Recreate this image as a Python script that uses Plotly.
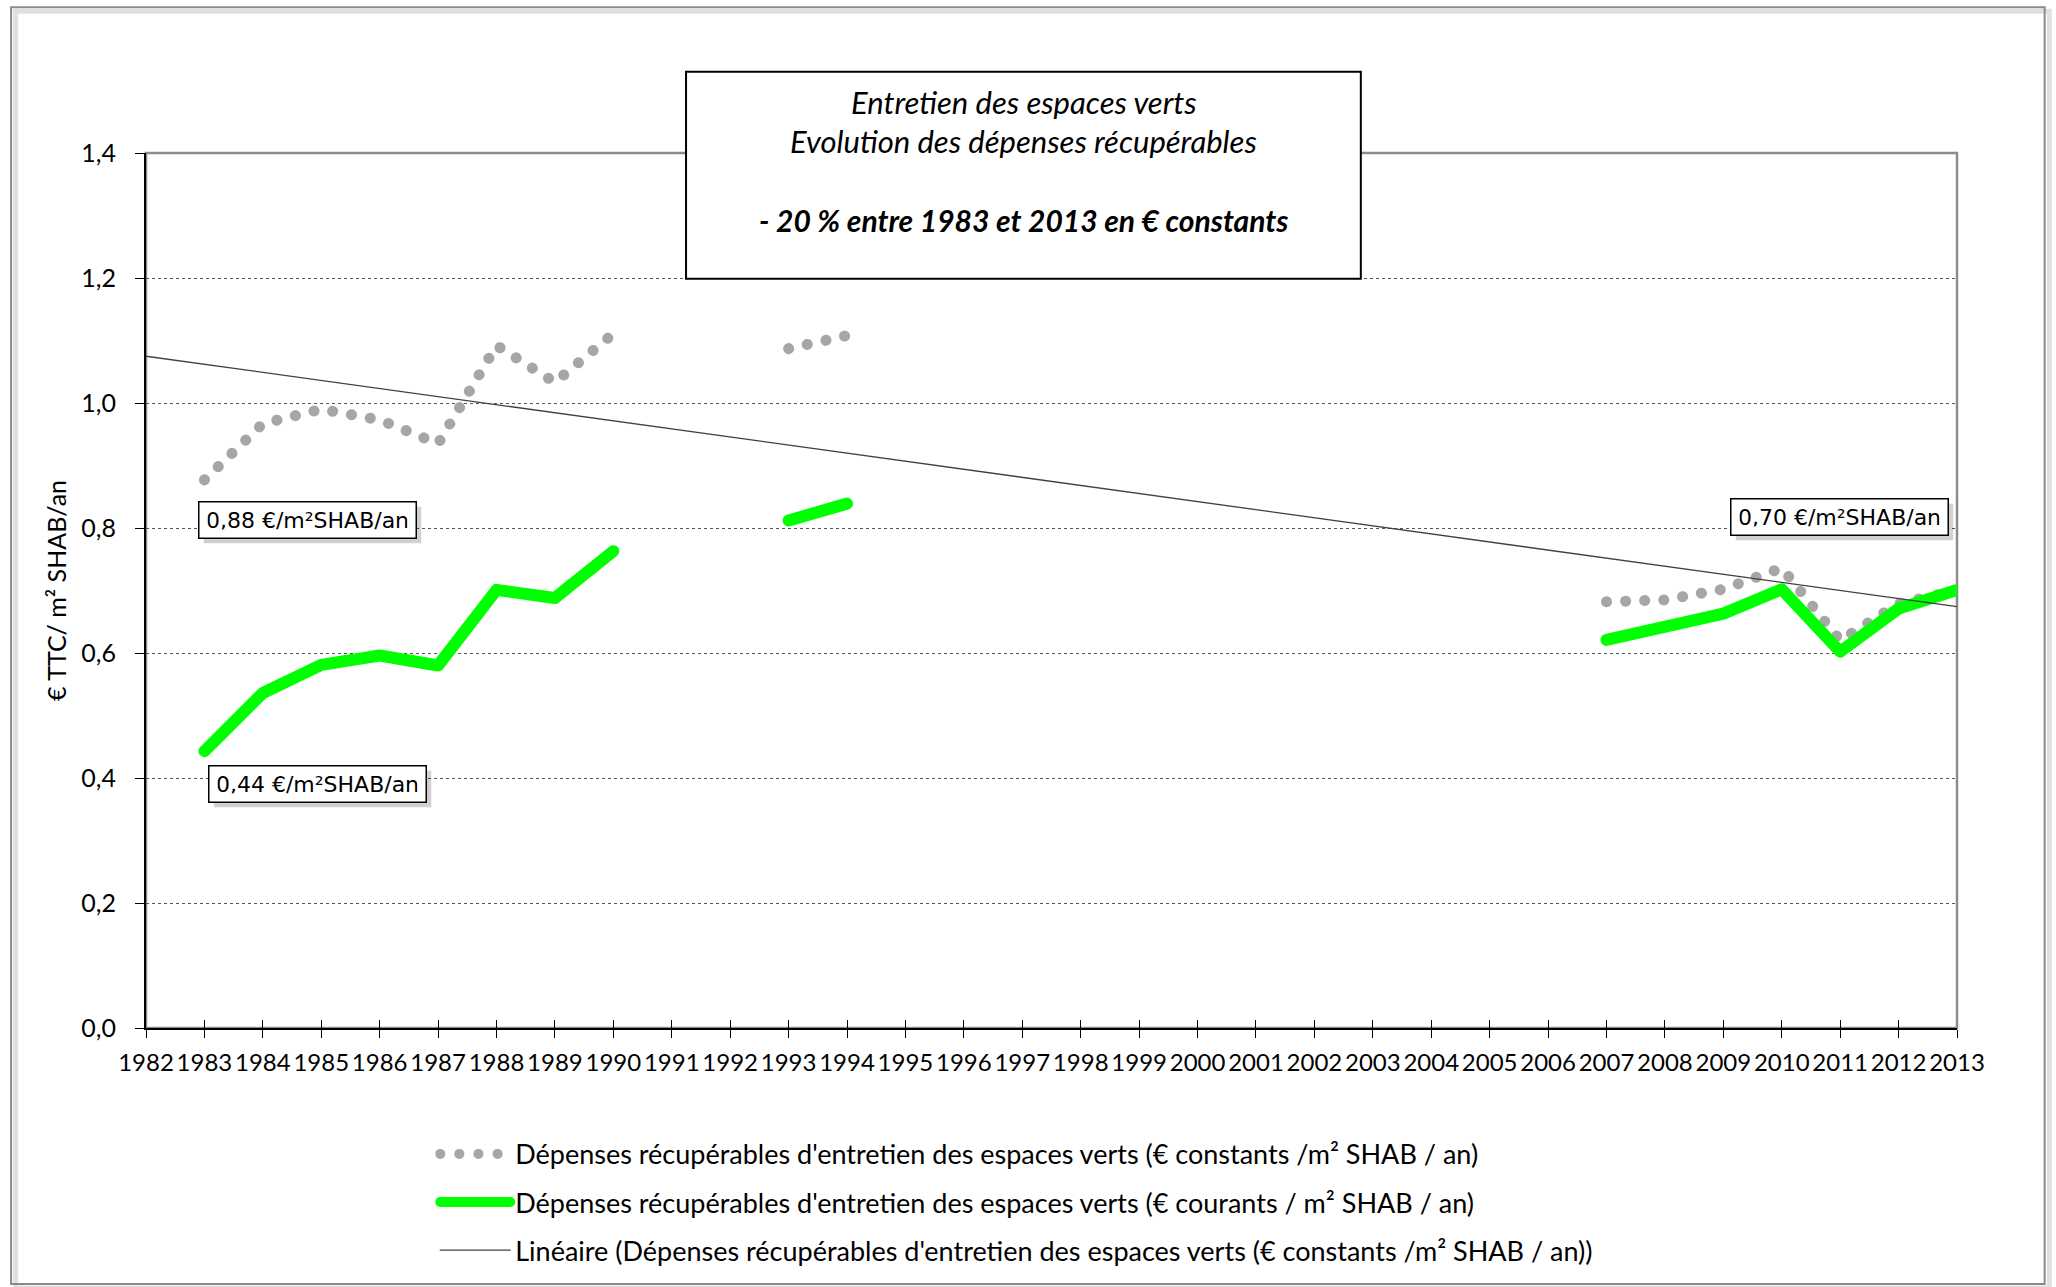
import numpy as np
import plotly.graph_objects as go

# Years on the category axis
years = list(range(1982, 2014))

# Dépenses récupérables, € constants / m² SHAB / an (None = no data)
constants = [None, 0.877, 0.967, 0.990, 0.973, 0.935, 1.092, 1.033, 1.111,
             None, None, 1.087, 1.108,
             None, None, None, None, None, None, None, None, None, None, None, None,
             0.682, 0.685, 0.702, 0.736, 0.620, 0.679, 0.700]

# Dépenses récupérables, € courants / m² SHAB / an
courants = [None, 0.443, 0.536, 0.581, 0.596, 0.580, 0.701, 0.688, 0.763,
            None, None, 0.812, 0.839,
            None, None, None, None, None, None, None, None, None, None, None, None,
            0.621, 0.642, 0.663, 0.702, 0.602, 0.671, 0.701]

name_const = "Dépenses récupérables d'entretien des espaces verts (€ constants /m² SHAB / an)"
name_cour = "Dépenses récupérables d'entretien des espaces verts (€ courants / m² SHAB / an)"
name_trend = "Linéaire (Dépenses récupérables d'entretien des espaces verts (€ constants /m² SHAB / an))"

title_lines = ["<i>Entretien des espaces verts</i>",
               "<i>Evolution des dépenses récupérables</i>",
               "<b><i>- 20 % entre 1983 et 2013 en € constants</i></b>"]

FONT = "Lato"


def fr(v):
    return "{:.2f}".format(v).replace(".", ",")


# Linear trendline over the constant-euro series (as Excel does)
xs = np.array([y for y, v in zip(years, constants) if v is not None], dtype=float)
ys = np.array([v for v in constants if v is not None], dtype=float)
slope, intercept = np.polyfit(xs, ys, 1)
trend_x = [years[0], years[-1]]
trend_y = [slope * x + intercept for x in trend_x]

fig = go.Figure()

fig.add_trace(go.Scatter(
    x=years, y=constants, mode="lines", name=name_const, legendgroup="a",
    connectgaps=False,
    line=dict(color="#a6a6a6", width=11, dash="0.1px,19px"),
))
fig.add_trace(go.Scatter(
    x=years, y=courants, mode="lines", name=name_cour, legendgroup="b",
    connectgaps=False,
    line=dict(color="#00ff00", width=12),
))
fig.add_trace(go.Scatter(
    x=trend_x, y=trend_y, mode="lines", name=name_trend, legendgroup="c",
    line=dict(color="#404040", width=1.3),
))
# empty trace so the overlaid axis (inside half of the cross ticks) is drawn
fig.add_trace(go.Scatter(x=[None], y=[None], xaxis="x2", showlegend=False,
                         hoverinfo="skip"))

fig.update_layout(
    width=2056, height=1287,
    margin=dict(l=146, r=99, t=153, b=259, autoexpand=False),
    paper_bgcolor="white", plot_bgcolor="white",
    separators=", ",
    font=dict(family=FONT, size=25, color="black"),
    showlegend=True,
    legend=dict(
        x=0.1597, y=-0.1164, xanchor="left", yanchor="top",
        orientation="v", itemwidth=70, tracegroupgap=10,
        font=dict(family=FONT, size=27),
        bgcolor="rgba(0,0,0,0)",
    ),
    xaxis=dict(
        range=[1982, 2013], tick0=1982, dtick=1, tickangle=0,
        showgrid=False, zeroline=False,
        showline=True, linecolor="black", linewidth=2,
        ticks="outside", ticklen=8, tickcolor="black", tickwidth=1,
        ticklabelstandoff=4,
        tickfont=dict(family=FONT, size=24),
    ),
    xaxis2=dict(
        overlaying="x", matches="x", range=[1982, 2013], tick0=1982, dtick=1,
        showgrid=False, zeroline=False, showline=False, showticklabels=False,
        ticks="inside", ticklen=8, tickcolor="black", tickwidth=1,
    ),
    yaxis=dict(
        range=[0, 1.4], dtick=0.2, tickformat=".1f",
        showgrid=True, gridcolor="#555555", gridwidth=1, griddash="dot",
        zeroline=False,
        showline=True, linecolor="black", linewidth=2,
        ticks="outside", ticklen=9, tickcolor="black",
        ticklabelstandoff=14,
        tickfont=dict(family=FONT, size=25),
        title=dict(text="€ TTC/ m² SHAB/an", standoff=8,
                   font=dict(family=FONT, size=25)),
    ),
)

# chart area frame with a light shadow
fig.add_shape(type="rect", xref="paper", yref="paper",
              x0=-0.0720, x1=1.0510, y0=-0.2970, y1=1.1620,
              line=dict(color="rgba(0,0,0,0.12)", width=5), layer="below")
fig.add_shape(type="rect", xref="paper", yref="paper",
              x0=-0.0745, x1=1.0484, y0=-0.2925, y1=1.1666,
              line=dict(color="#8a8a8a", width=2), layer="below")
# plot area frame (grey top/right, black axes drawn over left/bottom)
fig.add_shape(type="rect", xref="paper", yref="paper",
              x0=0, x1=1, y0=0, y1=1,
              line=dict(color="#8c8c8c", width=2.5), layer="below")

# title box
fig.add_shape(type="rect", xref="paper", yref="paper",
              x0=0.2982, x1=0.6708, y0=0.8563, y1=1.0929,
              line=dict(color="black", width=2), fillcolor="white", layer="above")
for txt, yy, fs in zip(title_lines, [1.0586, 1.0134, 0.9238], [31, 31, 30]):
    fig.add_annotation(xref="paper", yref="paper", x=0.4846, y=yy,
                       xanchor="center", yanchor="middle",
                       text=txt, showarrow=False,
                       font=dict(family=FONT, size=fs, color="black"))

# data label boxes (a grey offset box behind each one acts as shadow)
labels = [
    (fr(constants[1]) + " €/m²SHAB/an", 1984.76, 0.8125),
    (fr(courants[1]) + " €/m²SHAB/an", 1984.93, 0.391),
    (fr(constants[-1]) + " €/m²SHAB/an", 2010.99, 0.817),
]
for txt, lx, ly in labels:
    fig.add_annotation(x=lx, y=ly, text=" ", showarrow=False,
                       xshift=5, yshift=-5, width=200, height=19,
                       bgcolor="rgba(0,0,0,0.18)", borderpad=8, borderwidth=1.5,
                       bordercolor="rgba(0,0,0,0)")
    fig.add_annotation(x=lx, y=ly, text=txt, showarrow=False,
                       width=200, height=19,
                       font=dict(family="DejaVu Sans", size=22, color="black"),
                       bgcolor="white", bordercolor="black", borderwidth=1.5,
                       borderpad=8)

post = """
document.body.style.margin = '0';
var s = document.createElement('style');
s.textContent = '.scatterlayer path.js-line, .legendlines path {stroke-linecap:round; stroke-linejoin:round;}';
document.head.appendChild(s);
"""

fig.write_html("out.html", post_script=post, config={"displayModeBar": False})
